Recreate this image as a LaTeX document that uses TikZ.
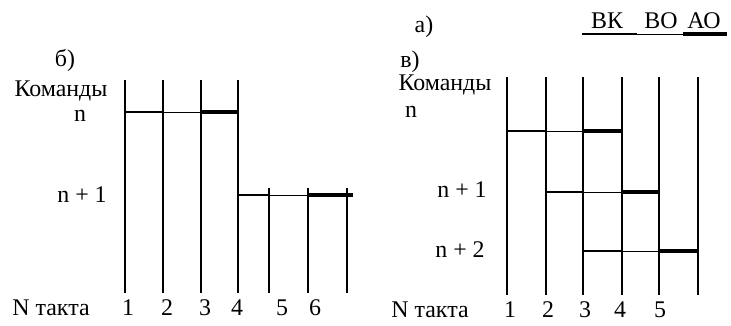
\documentclass[tikz,border=0pt]{standalone}
\usepackage{fontspec}
\setmainfont{Liberation Serif}
\begin{document}
\begin{tikzpicture}[x=0.025cm,y=-0.025cm,
  tact/.style={line width=1.3pt},
  vk/.style={line width=1.3pt},
  vo/.style={line width=0.6pt},
  ao/.style={line width=2.6pt},
  lbl/.style={inner sep=0pt,anchor=base,font=\fontsize{17}{20}\selectfont}]
\useasboundingbox (0,0) rectangle (731,326);

% a) legend
\node[lbl] (la) at (424,33) {а)};
\node[lbl] (lvk) at (607,29) {ВК};
\node[lbl] (lvo) at (661,29) {ВО};
\node[lbl] (lao) at (704,29) {АО};
\coordinate (u0) at (582,34);
\coordinate (u1) at (637,34);
\coordinate (u2) at (683,34);
\coordinate (u3) at (727,34);
\draw[vk] (u0) -- (u1);
\draw[vo] (u1) -- (u2);
\draw[ao] (u2) -- (u3);

% b) labels
\node[lbl] (bt) at (65,67) {б)};
\node[lbl] (bkom) at (61,97) {Команды};
\node[lbl] (bn) at (80,122) {n};
\node[lbl] (bn1) at (82,203) {n + 1};
\node[lbl] (bN) at (51,316) {N такта};
\foreach \x/\t in {128/1,167/2,205/3,237/4,282/5,315/6}
  \node[lbl] (bnum\t) at (\x,316) {\t};

% b) tacts
\coordinate (btop) at (0,80);
\coordinate (bmid) at (0,188);
\coordinate (bbot) at (0,293);
\coordinate (b1) at (125,80);
\coordinate (b2) at (163,80);
\coordinate (b3) at (201,80);
\coordinate (b4) at (238,80);
\coordinate (b5) at (269,188);
\coordinate (b6) at (308,188);
\coordinate (b7) at (347,188);
\foreach \i in {1,...,7}
  \draw[tact] (b\i) -- (b\i |- bbot);

% b) commands
\coordinate (brn) at (0,112);
\coordinate (brn1) at (0,195);
\coordinate (bend) at (353,195);
\draw[vk] (b1 |- brn) -- (b2 |- brn);
\draw[vo] (b2 |- brn) -- (b3 |- brn);
\draw[ao] (b3 |- brn) -- (b4 |- brn);
\draw[vk] (b4 |- brn1) -- (b5 |- brn1);
\draw[vo] (b5 |- brn1) -- (b6 |- brn1);
\draw[ao] (b6 |- brn1) -- (bend);

% v) labels
\node[lbl] (vt) at (410,68) {в)};
\node[lbl] (vkom) at (445,91) {Команды};
\node[lbl] (vn) at (411,118) {n};
\node[lbl] (vn1) at (462,198) {n + 1};
\node[lbl] (vn2) at (460,258) {n + 2};
\node[lbl] (vN) at (430,318) {N такта};
\foreach \x/\t in {510/1,548/2,585/3,620/4,660/5}
  \node[lbl] (vnum\t) at (\x,318) {\t};

% v) tacts
\coordinate (vbot) at (0,295);
\coordinate (v1) at (507,77);
\coordinate (v2) at (546,77);
\coordinate (v3) at (583,77);
\coordinate (v4) at (622,77);
\coordinate (v5) at (659,77);
\coordinate (v6) at (698,77);
\foreach \i in {1,...,6}
  \draw[tact] (v\i) -- (v\i |- vbot);

% v) commands
\coordinate (vrn) at (0,131);
\coordinate (vrn1) at (0,192);
\coordinate (vrn2) at (0,251);
\draw[vk] (v1 |- vrn) -- (v2 |- vrn);
\draw[vo] (v2 |- vrn) -- (v3 |- vrn);
\draw[ao] (v3 |- vrn) -- (v4 |- vrn);
\draw[vk] (v2 |- vrn1) -- (v3 |- vrn1);
\draw[vo] (v3 |- vrn1) -- (v4 |- vrn1);
\draw[ao] (v4 |- vrn1) -- (v5 |- vrn1);
\draw[vk] (v3 |- vrn2) -- (v4 |- vrn2);
\draw[vo] (v4 |- vrn2) -- (v5 |- vrn2);
\draw[ao] (v5 |- vrn2) -- (v6 |- vrn2);

\end{tikzpicture}
\end{document}
